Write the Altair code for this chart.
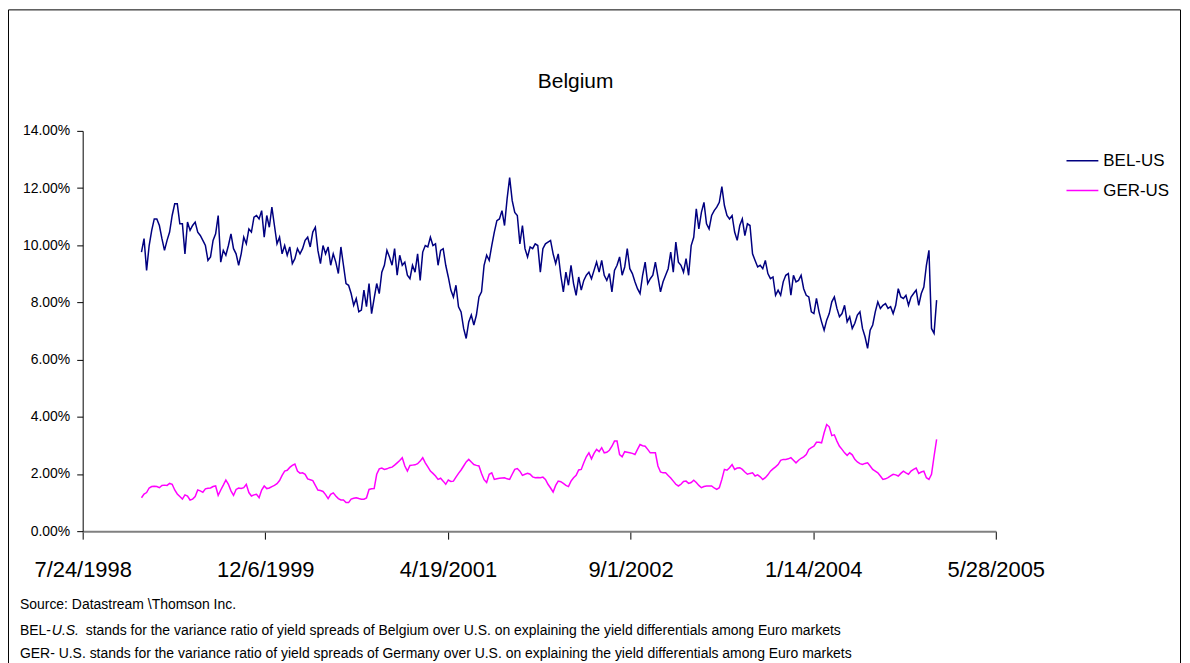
import altair as alt
import pandas as pd

# ---------------- data ----------------
start_date = "1999-01-01"
sample_step = "7D"

series_names = ["BEL-US", "GER-US"]
series_colors = ["#000080", "#FF00FF"]

bel_us = [
    9.76, 10.23, 9.12, 9.99, 10.52, 10.92, 10.92, 10.69, 10.23, 9.82,
    10.17, 10.46, 11.04, 11.45, 11.45, 10.75, 10.75, 9.70, 10.81, 10.52,
    10.69, 10.81, 10.46, 10.34, 10.17, 9.99, 9.47, 9.59, 10.17, 10.40,
    11.04, 9.41, 9.82, 9.65, 9.99, 10.40, 9.88, 9.70, 9.30, 9.70,
    10.28, 10.05, 10.57, 10.46, 10.98, 11.04, 10.92, 11.21, 10.28, 11.04,
    10.63, 11.33, 10.69, 10.05, 10.28, 9.70, 9.99, 9.65, 9.94, 9.36,
    9.53, 9.88, 9.70, 9.88, 10.17, 10.28, 9.94, 10.46, 10.63, 9.82,
    9.36, 9.99, 9.70, 9.94, 9.30, 9.70, 9.41, 9.01, 9.94, 9.30,
    8.66, 8.60, 8.31, 7.90, 8.14, 7.67, 7.73, 8.43, 7.85, 8.66,
    7.61, 8.14, 8.66, 8.31, 9.06, 9.30, 9.82, 9.59, 9.30, 9.88,
    8.95, 9.65, 9.30, 9.41, 8.95, 8.83, 9.30, 9.06, 9.70, 8.77,
    9.76, 9.99, 9.94, 10.28, 9.99, 10.05, 9.30, 9.82, 9.88, 9.30,
    8.89, 8.43, 8.19, 8.60, 7.85, 7.67, 7.09, 6.74, 7.32, 7.56,
    7.21, 7.56, 8.19, 8.37, 9.30, 9.65, 9.47, 9.99, 10.46, 10.86,
    10.92, 11.21, 10.69, 11.62, 12.37, 11.56, 11.15, 11.04, 10.05, 10.69,
    9.88, 9.59, 9.94, 9.88, 10.05, 9.99, 9.06, 9.88, 10.05, 10.11,
    10.17, 9.70, 9.36, 9.70, 8.95, 8.37, 9.06, 8.60, 9.30, 8.66,
    8.25, 8.89, 8.43, 8.77, 8.95, 9.06, 8.83, 9.12, 9.41, 9.06,
    9.47, 8.95, 8.77, 9.01, 8.37, 9.12, 9.30, 9.59, 8.95, 9.24,
    9.88, 9.18, 9.01, 8.72, 8.48, 8.31, 8.95, 9.41, 8.66, 8.83,
    8.95, 9.41, 8.89, 8.37, 8.72, 8.95, 9.18, 9.76, 9.06, 10.11,
    9.41, 9.30, 9.06, 9.53, 8.95, 9.99, 10.28, 11.27, 10.57, 11.15,
    11.50, 10.75, 10.57, 11.04, 11.21, 11.33, 11.50, 12.05, 11.39, 11.04,
    10.92, 11.04, 10.46, 10.17, 10.69, 10.92, 10.34, 10.75, 10.69, 9.70,
    9.47, 9.24, 9.30, 9.18, 9.47, 9.01, 8.83, 8.89, 8.25, 8.43,
    8.25, 8.72, 8.95, 9.01, 8.25, 8.95, 8.72, 8.77, 8.95, 8.48,
    8.25, 8.19, 7.67, 7.61, 8.14, 7.67, 7.32, 7.03, 7.38, 7.61,
    8.02, 8.19, 7.79, 7.50, 7.61, 7.90, 7.32, 7.50, 7.09, 7.27,
    7.56, 7.67, 7.09, 6.80, 6.39, 7.03, 7.21, 7.67, 8.02, 7.79,
    7.90, 7.96, 7.79, 7.85, 7.61, 7.90, 8.48, 8.19, 8.14, 8.25,
    7.90, 8.19, 8.31, 8.43, 7.90, 8.31, 8.54, 9.30, 9.82, 7.09,
    6.92, 8.08,
]

ger_us = [
    1.17, 1.30, 1.35, 1.51, 1.56, 1.57, 1.56, 1.52, 1.60, 1.61,
    1.60, 1.67, 1.64, 1.44, 1.30, 1.21, 1.12, 1.27, 1.23, 1.09,
    1.12, 1.21, 1.44, 1.41, 1.36, 1.48, 1.50, 1.51, 1.56, 1.58,
    1.25, 1.44, 1.61, 1.79, 1.64, 1.41, 1.25, 1.46, 1.51, 1.49,
    1.52, 1.64, 1.35, 1.23, 1.27, 1.29, 1.17, 1.44, 1.58, 1.49,
    1.51, 1.56, 1.60, 1.66, 1.77, 1.95, 2.10, 2.13, 2.23, 2.30,
    2.35, 2.10, 2.03, 2.04, 1.99, 1.83, 1.80, 1.77, 1.60, 1.44,
    1.42, 1.39, 1.28, 1.14, 1.29, 1.34, 1.23, 1.14, 1.09, 1.09,
    1.00, 1.00, 1.12, 1.15, 1.17, 1.14, 1.12, 1.12, 1.16, 1.46,
    1.48, 1.49, 1.99, 2.18, 2.21, 2.16, 2.18, 2.22, 2.24, 2.31,
    2.39, 2.47, 2.57, 2.28, 2.10, 2.30, 2.31, 2.32, 2.36, 2.45,
    2.57, 2.39, 2.25, 2.10, 2.02, 1.93, 1.81, 1.85, 1.75, 1.64,
    1.79, 1.74, 1.75, 1.89, 2.02, 2.14, 2.28, 2.42, 2.51, 2.42,
    2.33, 2.30, 2.28, 2.02, 1.80, 1.70, 1.99, 2.04, 1.81, 1.83,
    1.85, 1.86, 1.87, 1.83, 1.81, 1.99, 2.16, 2.19, 2.10, 1.95,
    1.99, 2.02, 1.99, 1.90, 1.87, 1.88, 1.87, 1.89, 1.81, 1.64,
    1.51, 1.37, 1.60, 1.75, 1.73, 1.67, 1.60, 1.56, 1.75, 1.87,
    1.95, 2.14, 2.16, 2.39, 2.60, 2.74, 2.53, 2.72, 2.86, 2.78,
    2.92, 2.74, 2.76, 2.83, 2.97, 3.15, 3.15, 2.68, 2.60, 2.78,
    2.76, 2.74, 2.72, 2.68, 2.86, 3.03, 2.99, 2.97, 2.86, 2.74,
    2.74, 2.74, 2.28, 2.07, 2.04, 2.04, 1.95, 1.86, 1.75, 1.64,
    1.58, 1.64, 1.74, 1.75, 1.67, 1.70, 1.78, 1.70, 1.60, 1.52,
    1.56, 1.58, 1.58, 1.58, 1.51, 1.46, 1.52, 1.81, 2.16, 2.13,
    2.22, 2.33, 2.16, 2.21, 2.22, 2.16, 2.07, 1.99, 2.02, 2.04,
    1.93, 1.97, 1.90, 1.81, 1.87, 1.97, 2.10, 2.18, 2.25, 2.33,
    2.48, 2.51, 2.51, 2.53, 2.57, 2.48, 2.39, 2.48, 2.55, 2.60,
    2.68, 2.86, 2.92, 2.97, 3.11, 3.11, 3.09, 3.44, 3.73, 3.65,
    3.34, 3.37, 3.15, 2.97, 2.86, 2.74, 2.65, 2.74, 2.67, 2.51,
    2.42, 2.36, 2.33, 2.37, 2.39, 2.28, 2.16, 2.10, 2.04, 1.93,
    1.81, 1.83, 1.87, 1.93, 1.99, 1.97, 1.93, 2.02, 2.10, 2.04,
    1.99, 2.10, 2.16, 2.21, 2.02, 2.07, 2.10, 1.87, 1.81, 1.99,
    2.62, 3.21,
]

x_tick_dates = [(1998, 7, 24), (1999, 12, 6), (2001, 4, 19),
                (2002, 9, 1), (2004, 1, 14), (2005, 5, 28)]
y_ticks = [0, 2, 4, 6, 8, 10, 12, 14]

title_text = "Belgium"
note_source = "Source: Datastream \\Thomson Inc."
note_bel_parts = ["BEL-", "U.S.",
                  "stands for the variance ratio of yield spreads of Belgium over U.S. on explaining the yield differentials among Euro markets"]
note_ger = "GER- U.S. stands for the variance ratio of yield spreads of Germany over U.S. on explaining the yield differentials among Euro markets"

# ---------------- table ----------------
df = pd.concat([
    pd.DataFrame({"date": pd.date_range(start_date, periods=len(bel_us), freq=sample_step),
                  "value": bel_us, "series": series_names[0]}),
    pd.DataFrame({"date": pd.date_range(start_date, periods=len(ger_us), freq=sample_step),
                  "value": ger_us, "series": series_names[1]}),
], ignore_index=True)

dummy = pd.DataFrame({"k": [0]})

FONT = "Liberation Sans"
tick_dt = [alt.DateTime(year=y, month=m, date=d) for (y, m, d) in x_tick_dates]

lines = alt.Chart(df).mark_line(strokeWidth=1.5, clip=False).encode(
    x=alt.X("date:T",
            scale=alt.Scale(domain=[tick_dt[0], tick_dt[-1]]),
            axis=alt.Axis(values=tick_dt, format="%-m/%-d/%Y", title=None, grid=False,
                          labelFont=FONT, labelFontSize=22,
                          labelColor="black", labelPadding=21, labelFlush=False,
                          labelOverlap=False, tickSize=8, tickColor="black", tickWidth=1,
                          domainColor="#808080", domainWidth=2)),
    y=alt.Y("value:Q",
            scale=alt.Scale(domain=[0, 14], nice=False, zero=True),
            axis=alt.Axis(values=y_ticks, labelExpr="format(datum.value, '.2f') + '%'",
                          title=None, grid=False, labelFont=FONT, labelFontSize=14,
                          labelColor="black", labelPadding=7, tickSize=6,
                          tickColor="black", domainColor="black", domainWidth=1)),
    color=alt.Color("series:N",
                    scale=alt.Scale(domain=series_names, range=series_colors),
                    legend=alt.Legend(title=None, orient="none", legendX=987, legendY=13,
                                      symbolType="stroke", symbolSize=1024,
                                      symbolStrokeWidth=1.5, labelFont=FONT,
                                      labelFontSize=17, labelColor="black",
                                      labelOffset=4, rowPadding=5, padding=0)),
)

frame = alt.Chart(dummy).mark_rect(fillOpacity=0, stroke="#000000", strokeWidth=1).encode(
    x=alt.value(-74.5), x2=alt.value(1102.5), y=alt.value(-121.5), y2=alt.value(600)
)

title = alt.Chart(dummy).mark_text(align="center", baseline="middle", font=FONT,
                                   fontSize=21, color="black").encode(
    x=alt.value(495), y=alt.value(-49), text=alt.value(title_text))

def note(text, x, y, style="normal"):
    return alt.Chart(dummy).mark_text(align="left", baseline="middle", font=FONT,
                                      fontSize=14, color="black", fontStyle=style).encode(
        x=alt.value(x), y=alt.value(y), text=alt.value(text))

notes = (note(note_source, -63, 476)
         + note(note_bel_parts[0], -63, 502)
         + note(note_bel_parts[1], -31, 502, "italic")
         + note(note_bel_parts[2], 3, 502)
         + note(note_ger, -63, 525))

chart = alt.layer(frame, title, lines, notes).properties(
    width=917, height=402,
    autosize=alt.AutoSizeParams(type="none"),
    padding={"left": 75, "top": 122, "right": 187, "bottom": 131},
).configure_view(stroke=None)

chart.save("out.html", embed_options={"renderer": "svg", "actions": False})
